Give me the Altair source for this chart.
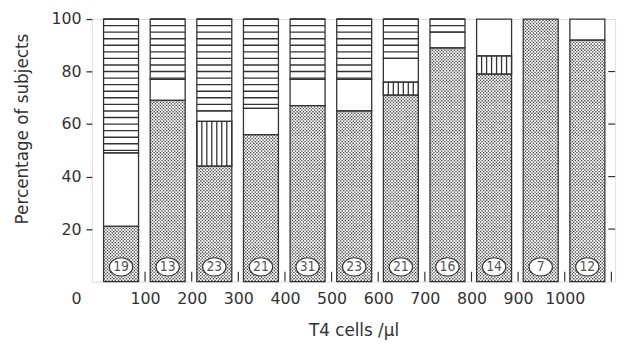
import altair as alt
import pandas as pd

# ---- data ----
starts = [0, 100, 200, 300, 400, 500, 600, 700, 800, 900, 1000]
counts = [19, 13, 23, 21, 31, 23, 21, 16, 14, 7, 12]
dotted = [21, 69, 44, 56, 67, 65, 71, 89, 79, 100, 92]
vstripe = [0, 0, 17, 0, 0, 0, 5, 0, 7, 0, 0]
white = [28, 8, 4, 10, 10, 12, 9, 6, 14, 0, 8]
hstripe = [51, 23, 35, 34, 23, 23, 15, 5, 0, 0, 0]

x_ticks = [100, 200, 300, 400, 500, 600, 700, 800, 900, 1000]
inner_x_ticks = [100, 200, 300, 400, 500, 600, 700, 800, 900, 1000, 1100]
y_ticks = [0, 20, 40, 60, 80, 100]
inner_y_ticks = [20, 40, 60, 80]

rows = []
for i, s in enumerate(starts):
    cum = 0
    for kind, vals in [("dot", dotted), ("vert", vstripe), ("white", white), ("horiz", hstripe)]:
        v = vals[i]
        if v > 0:
            rows.append(dict(start=s, lo=cum, hi=cum + v, kind=kind))
        cum += v
seg = pd.DataFrame(rows)
bars = pd.DataFrame({"start": starts, "n": counts})

FONT = "DejaVu Sans"
INK = "#333333"

xs = alt.Scale(domain=[-14, 1108], nice=False, zero=False)
ys = alt.Scale(domain=[0, 100], nice=False, zero=False)

X_AX = alt.Axis(
    values=x_ticks,
    format="d",
    ticks=False,
    tickSize=0,
    domain=False,
    grid=False,
    labelBaseline="middle",
    labelPadding=17,
    labelFont=FONT,
    labelFontSize=16,
    labelColor=INK,
    title="T4 cells /\u03bcl",
    titleFont=FONT,
    titleFontSize=17,
    titleFontWeight="normal",
    titleColor=INK,
    titleBaseline="middle",
    titleY=50,
)
Y_AX = alt.Axis(
    values=y_ticks,
    format="d",
    ticks=True,
    tickSize=6,
    tickColor=INK,
    tickWidth=1.3,
    tickOpacity={"condition": {"test": "datum.value == 0", "value": 0}, "value": 1},
    domain=False,
    grid=False,
    labelPadding=5,
    labelFont=FONT,
    labelFontSize=16,
    labelColor=INK,
    labelOffset={"condition": {"test": "datum.value == 0", "value": 17}, "value": 0},
    title="Percentage of subjects",
    titleFont=FONT,
    titleFontSize=17,
    titleFontWeight="normal",
    titleColor=INK,
    titleAngle=270,
    titleAlign="center",
    titleBaseline="middle",
    titleX=-70,
    titleY=111,
)

base = alt.Chart(seg).transform_calculate(
    xa="datum.start + 11", xb="datum.start + 86"
)

dots = (
    base.transform_filter("datum.kind == 'dot'")
    .transform_calculate(rws="sequence(0.5, datum.hi, 0.6)")
    .transform_flatten(["rws"], as_=["yy"])
    .transform_calculate(off="(round(datum.yy / 0.6) % 2) * 3.39")
    .transform_calculate(cls="sequence(datum.start + 12.6 + datum.off, datum.start + 85.5, 6.78)")
    .transform_flatten(["cls"], as_=["xx"])
    .mark_square(size=1.9, color="#444444", opacity=1, strokeWidth=0)
    .encode(
        x=alt.X("xx:Q", scale=xs, axis=X_AX),
        y=alt.Y("yy:Q", scale=ys, axis=Y_AX),
    )
)

vlines = (
    base.transform_filter("datum.kind == 'vert'")
    .transform_calculate(vx="sequence(datum.start + 11, datum.start + 86.1, 10.7)")
    .transform_flatten(["vx"], as_=["xv"])
    .mark_rule(color=INK, strokeWidth=1.3)
    .encode(
        x=alt.X("xv:Q", scale=xs, axis=X_AX),
        y=alt.Y("lo:Q", scale=ys, axis=Y_AX),
        y2="hi:Q",
    )
)

hlines = (
    base.transform_filter("datum.kind == 'horiz'")
    .transform_calculate(ds="sequence(0, datum.hi - datum.lo, 2.5)")
    .transform_flatten(["ds"], as_=["dy"])
    .transform_calculate(ly="datum.hi - datum.dy")
    .mark_rule(color=INK, strokeWidth=1.4)
    .encode(
        x=alt.X("xa:Q", scale=xs, axis=X_AX),
        x2="xb:Q",
        y=alt.Y("ly:Q", scale=ys, axis=Y_AX),
    )
)

outlines = base.mark_rect(fill="white", fillOpacity=0, stroke=INK, strokeWidth=1.3).encode(
    x=alt.X("xa:Q", scale=xs, axis=X_AX),
    x2="xb:Q",
    y=alt.Y("lo:Q", scale=ys, axis=Y_AX),
    y2="hi:Q",
)

ellipse = "M-1,0A1,0.78,0,1,1,1,0A1,0.78,0,1,1,-1,0Z"
cbase = alt.Chart(bars).transform_calculate(xc="datum.start + 48.5")
circles = cbase.mark_point(
    shape=ellipse, size=560, filled=True, fill="white", stroke=INK, strokeWidth=1.1, opacity=1
).encode(
    x=alt.X("xc:Q", scale=xs, axis=X_AX),
    y=alt.datum(5.6, scale=ys, axis=Y_AX),
)
labels = cbase.mark_text(
    font="DejaVu Sans Condensed, DejaVu Sans", fontSize=14, color="#555555", baseline="middle"
).encode(
    x=alt.X("xc:Q", scale=xs, axis=X_AX),
    y=alt.datum(5.6, scale=ys, axis=Y_AX),
    text="n:N",
)

bticks = alt.Chart(pd.DataFrame({"t": inner_x_ticks})).mark_rule(color=INK, strokeWidth=1.2).encode(
    x=alt.X("t:Q", scale=xs, axis=X_AX),
    y=alt.value(266),
    y2=alt.value(256),
)
rticks = alt.Chart(pd.DataFrame({"t": inner_y_ticks})).mark_rule(color=INK, strokeWidth=1.2).encode(
    y=alt.Y("t:Q", scale=ys, axis=Y_AX),
    x=alt.value(530),
    x2=alt.value(523),
)

chart = (
    alt.layer(outlines, dots, vlines, hlines, circles, labels, bticks, rticks)
    .properties(
        width=530,
        height=266,
        padding={"left": 85, "top": 9, "right": 8, "bottom": 60},
        autosize=alt.AutoSizeParams(type="none"),
    )
    .configure_view(stroke=INK, strokeWidth=1.5)
    .configure(background="white")
)

chart.save("out.html", embed_options={"renderer": "svg", "actions": False})
